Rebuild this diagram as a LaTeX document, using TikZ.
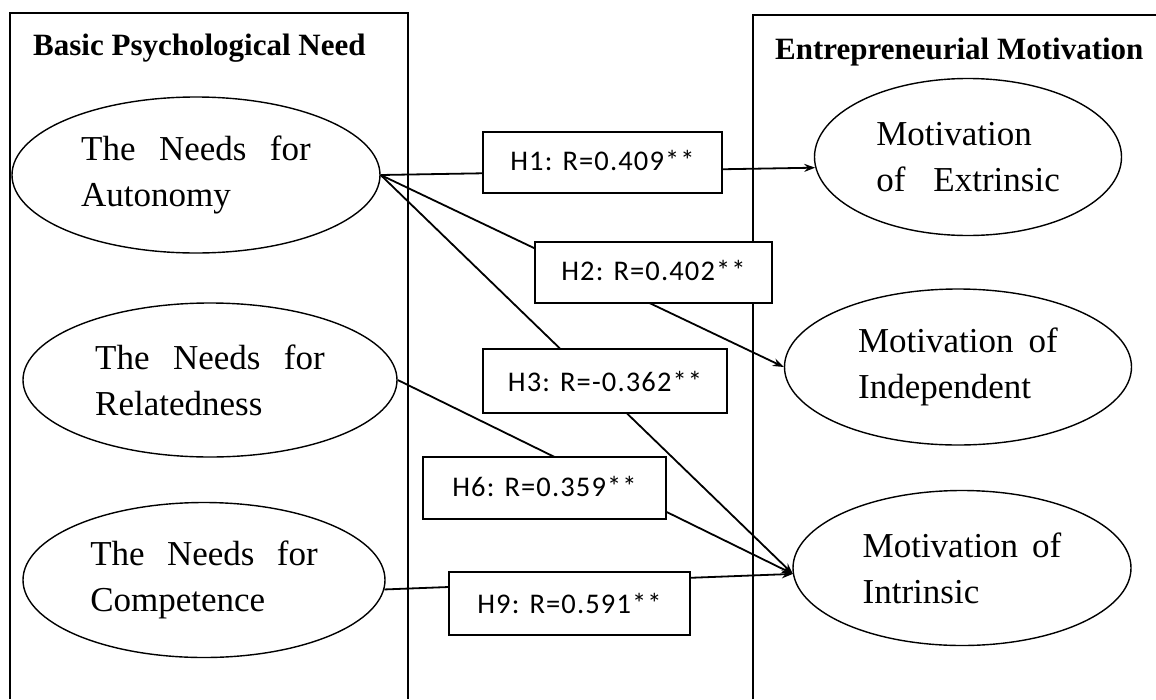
\documentclass[tikz,border=0pt]{standalone}
\usepackage{fontspec}
\setmainfont{Liberation Serif}
\newfontfamily\lblfont[LetterSpace=4]{Carlito}
\usetikzlibrary{arrows.meta,shapes.geometric}
\begin{document}
\begin{tikzpicture}[x=1pt,y=-1pt,
  ell/.style={ellipse,draw,line width=1.4pt,inner sep=0pt,align=left,font=\fontsize{35}{46}\selectfont},
  hyp/.style={draw,fill=white,line width=1.8pt,inner sep=0pt,font=\lblfont\fontsize{28.5}{32}\selectfont},
  conn/.style={line width=1.8pt},
  arr/.style={conn,-{Stealth[length=11pt,width=8pt]}},
  frameline/.style={line width=1.9pt},
  head/.style={font=\bfseries\fontsize{31}{36}\selectfont,inner sep=0pt,anchor=west}]
\useasboundingbox (0,0) rectangle (1156,699);
% group frames
\draw[frameline] (10,699) -- (10,13) -- (408,13) -- (408,699);
\draw[frameline] (753,699) -- (753,15) -- (1156,15);
\node[head] (bpn) at (33,48) {Basic Psychological Need};
\node[head] (em) at (775,52) {Entrepreneurial Motivation};
% constructs
\node[ell,minimum width=368pt,minimum height=156pt] (A) at (196,175) {The\hspace{0.67em}Needs\hspace{0.67em}for\\Autonomy};
\node[ell,minimum width=374pt,minimum height=154pt] (R) at (210,380) {The\hspace{0.67em}Needs\hspace{0.67em}for\\Relatedness};
\node[ell,minimum width=362pt,minimum height=155pt] (C) at (204,580) {The\hspace{0.64em}Needs\hspace{0.64em}for\\Competence};
\node[ell,minimum width=307pt,minimum height=157pt] (E) at (968,157) {Motivation\\of\hspace{0.8em}Extrinsic};
\node[ell,minimum width=347pt,minimum height=156pt] (N) at (958,367) {Motivation\hspace{0.43em}of\\Independent};
\node[ell,minimum width=338pt,minimum height=155pt] (I) at (962,568) {Motivation\hspace{0.4em}of\\Intrinsic};
% paths
\draw[arr] (A.east) -- (E.184);
\draw[arr] (A.east) -- (N.west);
\draw[arr] (A.east) -- (I.182);
\draw[arr] (R.east) -- (I.182);
\draw[arr] (C.-3) -- (I.182);
% hypothesis labels
\node[hyp,minimum width=239pt,minimum height=61pt,text depth=4pt] (h1) at (602.5,162.5) {H1: R=0.409**};
\node[hyp,minimum width=237pt,minimum height=61pt,text depth=4pt] (h2) at (653.5,272.5) {H2: R=0.402**};
\node[hyp,minimum width=244pt,minimum height=64pt] (h3) at (605,381) {H3: R=-0.362**};
\node[hyp,minimum width=243pt,minimum height=62pt,text depth=4pt] (h6) at (544.5,488) {H6: R=0.359**\hspace{14pt}};
\node[hyp,minimum width=241pt,minimum height=63pt] (h9) at (569.5,603.5) {H9: R=0.591**};
\end{tikzpicture}
\end{document}
